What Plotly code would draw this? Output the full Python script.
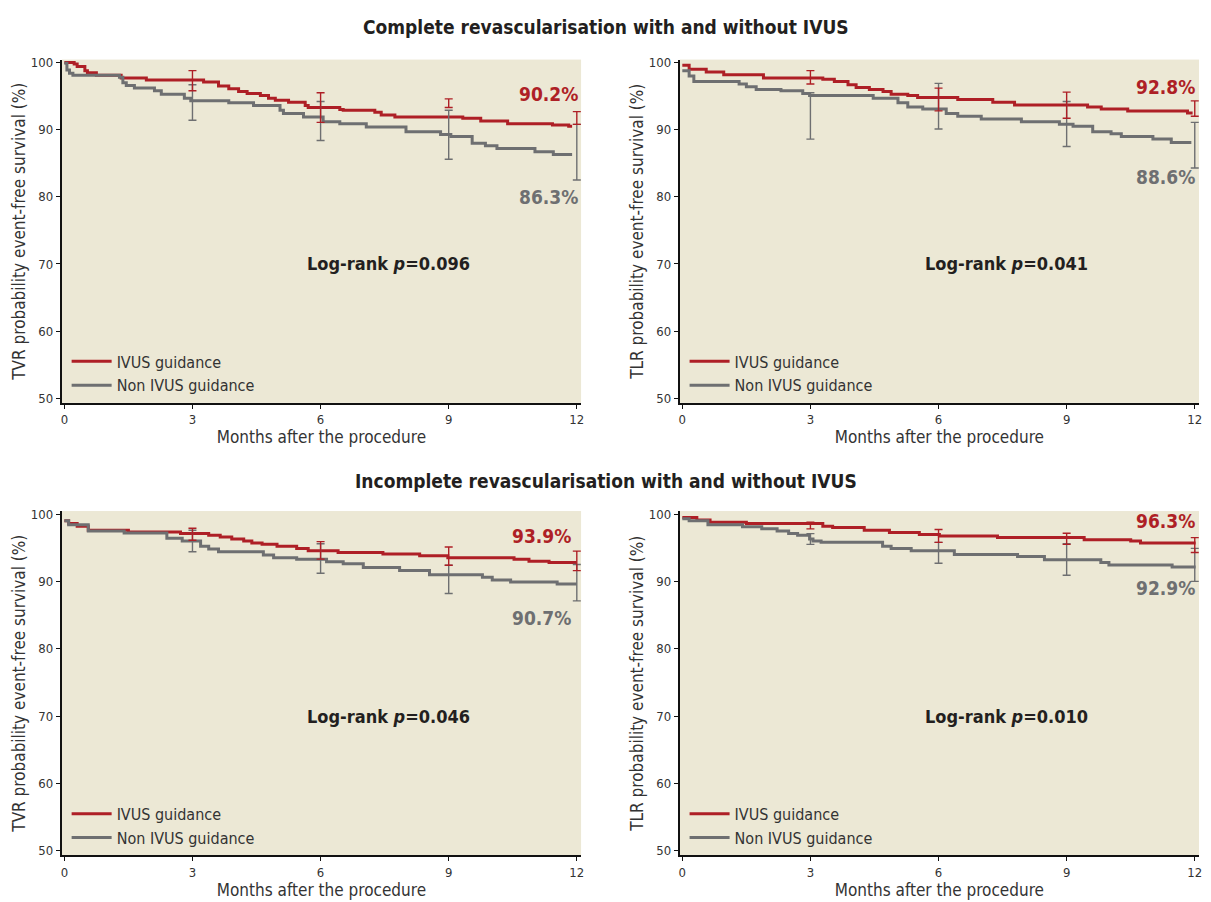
import plotly.graph_objects as go

# ---------------- data ----------------
month_ticks = [0, 3, 6, 9, 12]
surv_ticks = [50, 60, 70, 80, 90, 100]
bar_months = [3, 6, 9, 12]

series_names = ["IVUS guidance", "Non IVUS guidance"]
panel_titles = ["Complete revascularisation with and without IVUS",
                "Incomplete revascularisation with and without IVUS"]
y_titles = ["TVR probability event-free survival (%)",
            "TLR probability event-free survival (%)",
            "TVR probability event-free survival (%)",
            "TLR probability event-free survival (%)"]
x_title = "Months after the procedure"
p_values = ["0.096", "0.041", "0.046", "0.010"]
ivus_end_labels = ["90.2%", "92.8%", "93.9%", "96.3%"]
non_end_labels = ["86.3%", "88.6%", "90.7%", "92.9%"]

# Panel 1: TVR, complete revascularisation
p1_ivus_t = [0, 0.23, 0.30, 0.48, 0.54, 0.75, 1.33, 1.92, 3.26, 3.61, 3.85, 4.08, 4.28, 4.59, 4.78,
             4.94, 5.25, 5.64, 5.71, 6.45, 6.53, 7.27, 7.42, 7.74, 9.33, 9.75, 10.38, 11.43, 11.81, 11.89]
p1_ivus_s = [100, 99.8, 99.4, 98.8, 98.5, 98.1, 97.7, 97.4, 97.1, 96.5, 96.1, 95.7, 95.4, 95.1, 94.7,
             94.4, 94.1, 93.6, 93.3, 93.0, 92.9, 92.6, 92.2, 91.9, 91.7, 91.3, 90.9, 90.7, 90.5, 90.5]
p1_non_t = [0, 0.06, 0.12, 0.20, 1.29, 1.37, 1.45, 1.64, 2.11, 2.27, 2.81, 2.96, 3.85, 4.43, 5.05,
            5.13, 5.60, 6.06, 6.45, 7.07, 8.00, 8.81, 9.05, 9.55, 9.86, 10.13, 11.02, 11.45, 11.89]
p1_non_s = [99.9, 98.9, 98.4, 98.1, 97.8, 97.0, 96.6, 96.2, 95.8, 95.3, 94.7, 94.3, 94.0, 93.6, 92.9,
            92.4, 91.9, 91.2, 90.9, 90.4, 89.7, 89.3, 89.0, 88.0, 87.6, 87.2, 86.7, 86.3, 86.3]
p1_ivus_lo = [95.8, 91.1, 93.3, 90.8]
p1_ivus_hi = [98.8, 95.5, 94.6, 92.7]
p1_non_lo = [91.4, 88.4, 85.6, 82.5]
p1_non_hi = [96.7, 94.2, 92.9, 90.8]

# Panel 2: TLR, complete revascularisation
p2_ivus_t = [0, 0.16, 0.56, 0.97, 1.90, 3.29, 3.56, 3.88, 4.07, 4.38, 4.70, 4.89, 5.28, 5.51, 6.45,
             7.27, 7.78, 9.49, 9.81, 10.43, 11.83, 11.95]
p2_ivus_s = [99.6, 99.0, 98.6, 98.2, 97.7, 97.5, 97.2, 96.7, 96.3, 96.0, 95.7, 95.3, 95.1, 94.8, 94.5,
             94.1, 93.7, 93.4, 93.1, 92.8, 92.5, 92.5]
p2_non_t = [0, 0.16, 0.27, 1.33, 1.50, 1.73, 2.31, 2.82, 2.98, 4.47, 5.05, 5.28, 5.63, 6.18, 6.45,
            7.00, 7.94, 8.83, 9.15, 9.61, 10.04, 10.28, 11.02, 11.45, 11.92]
p2_non_s = [98.8, 98.0, 97.2, 96.8, 96.4, 96.0, 95.8, 95.4, 95.1, 94.7, 94.0, 93.4, 93.1, 92.4, 92.0,
            91.6, 91.2, 90.8, 90.5, 89.7, 89.4, 89.0, 88.6, 88.1, 88.1]
p2_ivus_lo = [96.8, 92.8, 91.7, 92.0]
p2_ivus_hi = [98.8, 96.2, 95.6, 94.3]
p2_non_lo = [88.6, 90.1, 87.5, 84.3]
p2_non_hi = [95.5, 96.9, 94.2, 91.1]

# Panel 3: TVR, incomplete revascularisation
p3_ivus_t = [0, 0.10, 0.30, 0.56, 1.50, 2.72, 3.38, 3.65, 3.92, 4.20, 4.39, 4.63, 4.98, 5.44, 5.71,
             6.41, 7.46, 8.32, 8.98, 10.53, 10.88, 11.35, 12.0]
p3_ivus_s = [99.0, 98.6, 98.2, 97.6, 97.35, 97.1, 96.85, 96.6, 96.3, 96.0, 95.7, 95.5, 95.2, 94.9, 94.55,
             94.3, 94.05, 93.8, 93.5, 93.3, 93.0, 92.8, 92.8]
p3_non_t = [0, 0.10, 0.56, 1.40, 2.40, 2.76, 3.19, 3.38, 3.61, 4.66, 4.90, 5.44, 6.14, 6.53, 7.00,
            7.85, 8.55, 9.79, 10.02, 10.45, 11.54, 12.0]
p3_non_s = [99.0, 98.4, 97.5, 97.2, 96.4, 96.0, 95.2, 94.8, 94.4, 93.9, 93.5, 93.3, 92.9, 92.6, 92.05,
            91.6, 91.0, 90.6, 90.2, 89.9, 89.6, 89.6]
p3_ivus_lo = [96.1, 93.3, 92.4, 91.6]
p3_ivus_hi = [97.9, 95.9, 95.1, 94.5]
p3_non_lo = [94.4, 91.2, 88.2, 87.1]
p3_non_hi = [97.6, 95.6, 92.4, 92.5]

# Panel 4: TLR, incomplete revascularisation
p4_ivus_t = [0, 0.34, 0.65, 1.50, 3.29, 3.52, 4.26, 4.85, 5.55, 6.02, 7.38, 9.41, 10.50, 10.73, 12.02]
p4_ivus_s = [99.5, 99.1, 98.8, 98.6, 98.2, 98.0, 97.6, 97.25, 96.95, 96.75, 96.5, 96.2, 96.0, 95.7, 95.7]
p4_non_t = [0, 0.16, 0.60, 1.41, 1.86, 2.22, 2.49, 2.70, 2.98, 3.06, 3.25, 4.69, 4.89, 5.36, 6.37,
            7.85, 8.48, 9.80, 9.99, 11.47, 12.02]
p4_non_s = [99.3, 99.0, 98.4, 98.1, 97.8, 97.5, 97.1, 96.85, 96.3, 96.0, 95.8, 95.2, 94.9, 94.55, 94.0,
            93.7, 93.2, 92.8, 92.45, 92.15, 92.15]
p4_ivus_lo = [97.8, 95.8, 95.5, 94.3]
p4_ivus_hi = [98.8, 97.7, 97.15, 96.5]
p4_non_lo = [95.5, 92.7, 90.9, 90.0]
p4_non_hi = [97.1, 95.8, 95.6, 94.9]

# ---------------- style / layout ----------------
RED = "#ae1f26"
GRAY = "#6e6f71"
BEIGE = "#ece8d5"
FONT = "DejaVu Sans Condensed, Liberation Sans Narrow, DejaVu Sans, sans-serif"
W, H = 1211, 902

panels = [
    dict(ivus=(p1_ivus_t, p1_ivus_s), non=(p1_non_t, p1_non_s),
         ivus_bar=(p1_ivus_lo, p1_ivus_hi), non_bar=(p1_non_lo, p1_non_hi),
         px=(61, 582), py=(56, 402), lab_x=12.08, lab_y=(95.3, 79.9)),
    dict(ivus=(p2_ivus_t, p2_ivus_s), non=(p2_non_t, p2_non_s),
         ivus_bar=(p2_ivus_lo, p2_ivus_hi), non_bar=(p2_non_lo, p2_non_hi),
         px=(681, 1202), py=(56, 402), lab_x=12.05, lab_y=(96.4, 83.0)),
    dict(ivus=(p3_ivus_t, p3_ivus_s), non=(p3_non_t, p3_non_s),
         ivus_bar=(p3_ivus_lo, p3_ivus_hi), non_bar=(p3_non_lo, p3_non_hi),
         px=(61, 582), py=(511, 858), lab_x=11.9, lab_y=(96.7, 84.6)),
    dict(ivus=(p4_ivus_t, p4_ivus_s), non=(p4_non_t, p4_non_s),
         ivus_bar=(p4_ivus_lo, p4_ivus_hi), non_bar=(p4_non_lo, p4_non_hi),
         px=(681, 1202), py=(511, 858), lab_x=12.05, lab_y=(99.0, 89.0)),
]

fig = go.Figure()
layout = dict(width=W, height=H, margin=dict(l=0, r=0, t=0, b=0),
              paper_bgcolor="white", plot_bgcolor=BEIGE,
              font=dict(family=FONT, color="#231f20"), showlegend=True)
annotations = []

for i, p in enumerate(panels):
    k = "" if i == 0 else str(i + 1)
    xa, ya = "x" + k, "y" + k
    leg = "legend" + k
    dom_x = [p["px"][0] / W, p["px"][1] / W]
    dom_y = [1 - p["py"][1] / H, 1 - p["py"][0] / H]
    layout["xaxis" + k] = dict(domain=dom_x, anchor=ya, range=[-0.06, 12.1], tickvals=month_ticks,
                               showgrid=False, zeroline=False, showline=True, linecolor="#111",
                               linewidth=2, ticks="outside", ticklen=4, tickwidth=1.3, tickcolor="#111",
                               tickfont=dict(size=13, color="#333", family=FONT),
                               title=dict(text=x_title, standoff=2, font=dict(size=17, color="#333")))
    layout["yaxis" + k] = dict(domain=dom_y, anchor=xa, range=[49.3, 100.45], tickvals=surv_ticks,
                               showgrid=False, zeroline=False, showline=True, linecolor="#111",
                               linewidth=2, ticks="outside", ticklen=4, tickwidth=1.3, tickcolor="#111",
                               tickfont=dict(size=13, color="#333", family=FONT),
                               title=dict(text=y_titles[i], standoff=1, font=dict(size=17, color="#333")))
    layout[leg] = dict(x=dom_x[0] + 0.004, y=dom_y[0] + 0.0005, xanchor="left", yanchor="bottom",
                       bgcolor="rgba(0,0,0,0)", font=dict(size=16, color="#333", family=FONT),
                       tracegroupgap=0, itemwidth=40)

    for (t, s), name, col in [(p["ivus"], series_names[0], RED), (p["non"], series_names[1], GRAY)]:
        fig.add_trace(go.Scatter(x=t, y=s, mode="lines", line=dict(color=col, width=3, shape="hv"),
                                 name=name, xaxis=xa, yaxis=ya, legend=leg, hoverinfo="skip"))
    for (lo, hi), col in [(p["non_bar"], GRAY), (p["ivus_bar"], RED)]:
        mid = [(a + b) / 2 for a, b in zip(lo, hi)]
        half = [(b - a) / 2 for a, b in zip(lo, hi)]
        fig.add_trace(go.Scatter(x=bar_months, y=mid, mode="markers",
                                 marker=dict(size=1, color="rgba(0,0,0,0)"),
                                 error_y=dict(type="data", array=half, symmetric=True,
                                              color=col, thickness=1.4, width=4),
                                 xaxis=xa, yaxis=ya, showlegend=False, hoverinfo="skip"))

    annotations.append(dict(x=p["lab_x"], y=p["lab_y"][0], xref=xa, yref=ya, text="<b>%s</b>" % ivus_end_labels[i],
                            showarrow=False, xanchor="right", yanchor="middle",
                            font=dict(size=19, color=RED, family=FONT)))
    annotations.append(dict(x=p["lab_x"], y=p["lab_y"][1], xref=xa, yref=ya, text="<b>%s</b>" % non_end_labels[i],
                            showarrow=False, xanchor="right", yanchor="middle",
                            font=dict(size=19, color=GRAY, family=FONT)))
    annotations.append(dict(x=7.6, y=70.0, xref=xa, yref=ya,
                            text="<b>Log-rank <i>p</i>=%s</b>" % p_values[i],
                            showarrow=False, xanchor="center", yanchor="middle",
                            font=dict(size=18, color="#231f20", family=FONT)))

annotations.append(dict(x=607 / W, y=1 - 23 / H, xref="paper", yref="paper", text="<b>%s</b>" % panel_titles[0],
                        showarrow=False, xanchor="center", yanchor="middle",
                        font=dict(size=19, color="#231f20", family=FONT)))
annotations.append(dict(x=607 / W, y=1 - 481 / H, xref="paper", yref="paper", text="<b>%s</b>" % panel_titles[1],
                        showarrow=False, xanchor="center", yanchor="middle",
                        font=dict(size=19, color="#231f20", family=FONT)))
layout["annotations"] = annotations

fig.update_layout(**layout)
fig.write_html("out.html", config={"displayModeBar": False},
               post_script="document.body.style.margin='0px';")
